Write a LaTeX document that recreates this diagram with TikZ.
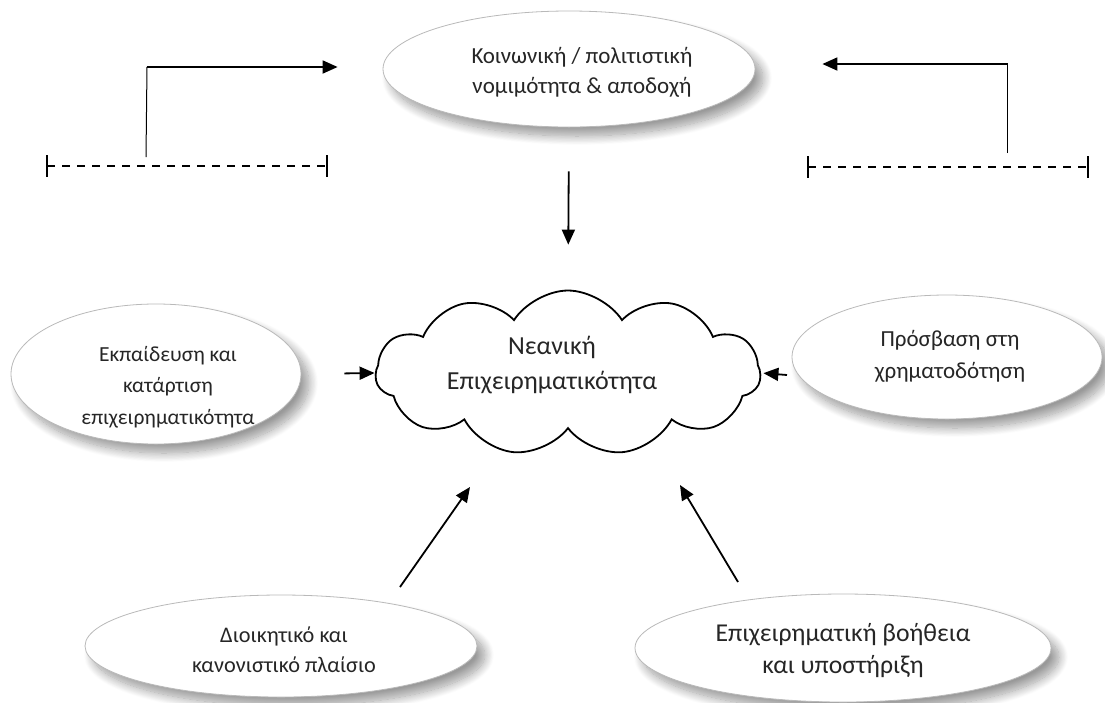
\documentclass[tikz,border=0pt]{standalone}
\usepackage{fontspec}
\setmainfont{Carlito}
\usetikzlibrary{shapes.geometric}
\usetikzlibrary{shapes.symbols}
\usetikzlibrary{arrows.meta}
\usetikzlibrary{shadows.blur}

\begin{document}
\begin{tikzpicture}[x=1pt,y=-1pt,line width=1.8pt]

            \useasboundingbox (0,0) rectangle (1105,702);

            \tikzset{oval/.style={ellipse,draw=gray!55,line width=0.8pt,fill=white,inner sep=0pt,
                        blur shadow={shadow xshift=8pt,shadow yshift=-9pt,shadow blur radius=9pt,shadow blur steps=16,shadow opacity=40}},
                     ovaltext/.style={align=center,inner sep=0pt,text=black!85},
                     pointer/.style={arrows = -{Triangle[length=15pt,width=13pt]}}}

            \path   (569,69) node (legit) [oval,minimum width=372pt,minimum height=116pt,
                        label={[ovaltext,xshift=13pt,yshift=-3pt,font=\fontsize{23}{30}\selectfont]center:{Κοινωνική / πολιτιστική\\νομιμότητα \& αποδοχή}}] {}
                    (156,374) node (edu) [oval,minimum width=290pt,minimum height=140pt,
                        label={[ovaltext,xshift=12pt,yshift=-13pt,font=\fontsize{21.5}{31.5}\selectfont]center:{Εκπαίδευση και\\κατάρτιση\\επιχειρηματικότητα}}] {}
                    (947,357) node (fin) [oval,minimum width=310pt,minimum height=124pt,
                        label={[ovaltext,xshift=3pt,yshift=1pt,font=\fontsize{23}{32}\selectfont]center:{Πρόσβαση στη\\χρηματοδότηση}}] {}
                    (281,646) node (admin) [oval,minimum width=392pt,minimum height=102pt,
                        label={[ovaltext,xshift=3pt,yshift=-4pt,font=\fontsize{22.3}{30}\selectfont]center:{Διοικητικό και\\κανονιστικό πλαίσιο}}] {}
                    (843,648) node (support) [oval,minimum width=416pt,minimum height=108pt,
                        label={[ovaltext,yshift=-3pt,font=\fontsize{25.7}{32}\selectfont]center:{Επιχειρηματική βοήθεια\\και υποστήριξη}}] {}

                    (568,373) node (youth) [cloud,draw,fill=white,cloud puffs=11,cloud puff arc=115,cloud ignores aspect,
                        minimum width=385pt,minimum height=165pt,inner sep=0pt,
                        label={[ovaltext,xshift=-16pt,yshift=8pt,font=\fontsize{26}{35}\selectfont]center:{Νεανική\\Επιχειρηματικότητα}}] {};

            % brackets under the top arrows
            \coordinate (lbl) at (47,166);
            \coordinate (lbr) at (327,166);
            \coordinate (rbl) at (808,167);
            \coordinate (rbr) at (1088,167);
            \draw[line width=1.2pt,dash pattern=on 8pt off 7pt] (lbl) -- (lbr);
            \draw[line width=1.2pt,dash pattern=on 8pt off 7pt] (rbl) -- (rbr);
            \draw[line width=2.4pt] ([yshift=11pt]lbl) -- ([yshift=-11pt]lbl);
            \draw[line width=2.4pt] ([yshift=11pt]lbr) -- ([yshift=-11pt]lbr);
            \draw[line width=2.4pt] ([yshift=11pt]rbl) -- ([yshift=-11pt]rbl);
            \draw[line width=2.4pt] ([yshift=11pt]rbr) -- ([yshift=-11pt]rbr);

            % elbow arrows to the top oval
            \coordinate (lup) at (146,157);
            \coordinate (rup) at (1007,153);
            \draw[line width=1pt] (lup) -- (147,67);
            \draw[pointer] (146.5,67) -- ([xshift=-45pt]legit.west |- 0,67);
            \draw[line width=1pt] (rup) -- (1007,64);
            \draw[pointer] (1007.5,64) -- ([xshift=67pt]legit.east |- 0,64);

            % arrows into the cloud
            \draw[pointer,shorten <=44pt,shorten >=45pt] (legit.south) -- (youth.north);
            \draw[pointer,shorten <=43pt] (edu.east) -- (youth.west);
            \coordinate (finout) at (787,375);
            \draw[pointer,shorten >=2pt] (finout) -- (youth.east);
            \coordinate (adminout) at (400,587);
            \coordinate (adminin) at (470,487);
            \draw[pointer] (adminout) -- (adminin);
            \coordinate (supportout) at (738,582);
            \coordinate (supportin) at (680,485);
            \draw[pointer] (supportout) -- (supportin);
        \end{tikzpicture}
\end{document}
